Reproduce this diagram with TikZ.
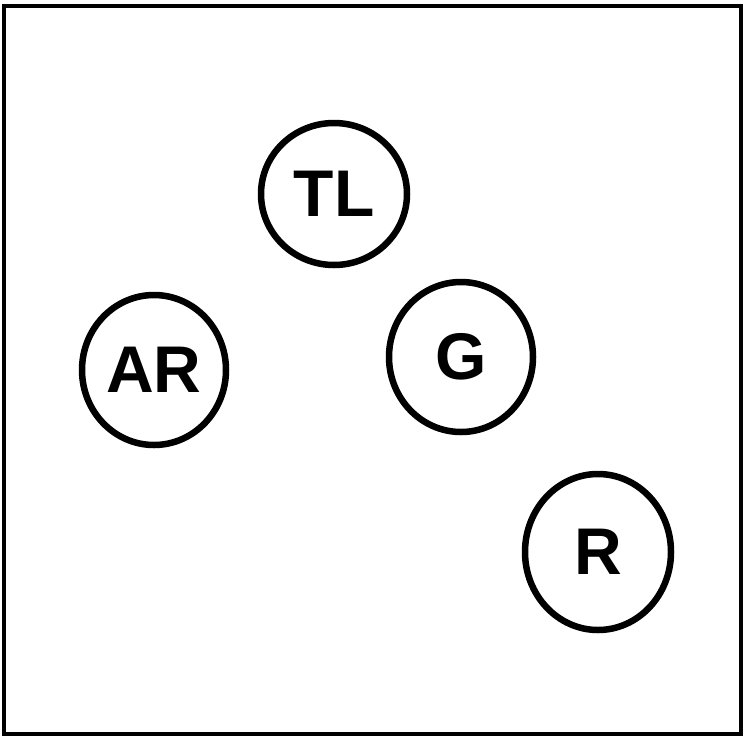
\documentclass[tikz,border=0pt]{standalone}
\usepackage{fontspec}
\setmainfont{Liberation Sans}
\usetikzlibrary{shapes.geometric}

\begin{document}
\begin{tikzpicture}[
        x=1pt, y=-1pt,
        state/.style={
            ellipse,
            draw=black,
            line width=6.5pt,
            minimum width=144pt,
            minimum height=150pt,
            inner sep=0pt,
            font=\fontsize{66}{70}\selectfont\bfseries
        }
    ]

    % frame
    \useasboundingbox (0,0) rectangle (744,737);
    \draw[line width=4pt] (4,6) rectangle (741,734);

    % states
    \node[state, minimum width=146pt, minimum height=142pt] (tl) at (334,194) {TL};
    \node[state] (ar) at (154,370) {AR};
    \node[state] (g) at (461,357) {G};
    \node[state, minimum width=146pt, minimum height=156pt] (r) at (598,552) {R};

\end{tikzpicture}
\end{document}
